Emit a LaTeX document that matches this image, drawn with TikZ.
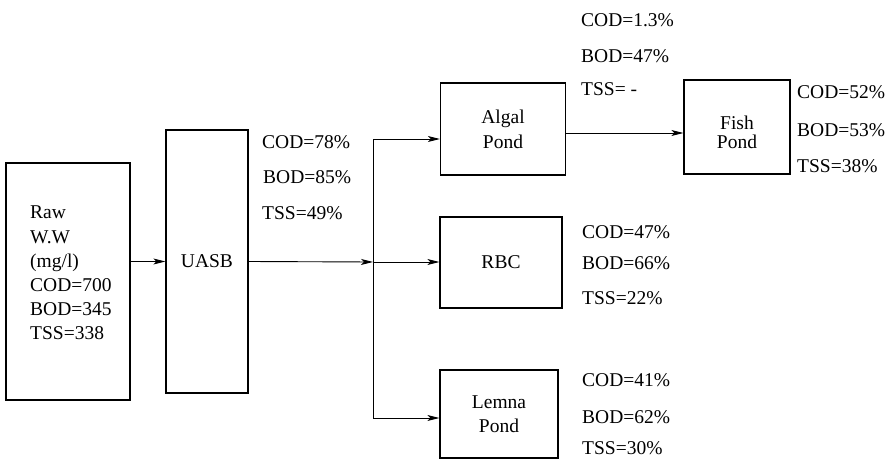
\documentclass[tikz,border=0pt]{standalone}
\usepackage{fontspec}
\setmainfont{Liberation Serif}
\usetikzlibrary{arrows.meta,calc}
\begin{document}
\begin{tikzpicture}[x=1pt,y=-1pt,
  every node/.style={font=\fontsize{19.5}{24}\selectfont},
  box/.style={draw,line width=1.3pt,inner sep=0pt,align=center},
  lbl/.style={anchor=west,inner sep=0pt},
  conn/.style={line width=0.9pt},
  arr/.style={conn,-{Stealth[length=12pt,width=6pt,inset=3pt]}}]
\useasboundingbox (0,0) rectangle (896,460);
% boxes
\node[box,minimum width=124pt,minimum height=237pt] (raw) at (68,281.5) {};
\node[anchor=north west,inner sep=0pt,align=left,font=\fontsize{19.5}{24.2}\selectfont] (rawtxt) at (30,206) {Raw\\W.W\\(mg/l)\\COD=700\\BOD=345\\TSS=338};
\node[box,minimum width=82pt,minimum height=263pt] (uasb) at (207,261.5) {UASB};
\node[box,minimum width=125pt,minimum height=92pt,font=\fontsize{19.5}{25}\selectfont] (algal) at (503,129) {Algal\\Pond};
\node[box,minimum width=122pt,minimum height=91pt] (rbc) at (501,262.5) {RBC};
\node[box,minimum width=118pt,minimum height=88pt,font=\fontsize{19.5}{24}\selectfont] (lemna) at (499,414) {Lemna\\Pond};
\node[box,minimum width=106pt,minimum height=94pt] (fish) at (737,127) {};
\node[align=center,inner sep=0pt,font=\fontsize{19.5}{19}\selectfont] (fishtxt) at (737,132) {Fish\\Pond};
% junction
\coordinate (jt) at (373,139);
\coordinate (jm) at (373,262);
\coordinate (jb) at (373,418);
% connectors
\draw[arr] (raw.east |- uasb.west) -- (uasb.west);
\draw[arr] (uasb.east) -- (jm);
\draw[conn] (jt) -- (jb);
\draw[arr] (jt) -- (jt -| algal.west);
\draw[arr] (jm) -- (jm -| rbc.west);
\draw[arr] (jb) -- (jb -| lemna.west);
\draw[arr] ($(algal.east)+(0,4)$) -- ($(fish.west)+(0,6)$);
% labels
\node[lbl] (u1) at (262,142) {COD=78\%};
\node[lbl] (u2) at (263,177) {BOD=85\%};
\node[lbl] (u3) at (262,213) {TSS=49\%};
\node[lbl] (a1) at (581,20) {COD=1.3\%};
\node[lbl] (a2) at (581,56) {BOD=47\%};
\node[lbl] (a3) at (581,89) {TSS= -};
\node[lbl] (f1) at (797,92) {COD=52\%};
\node[lbl] (f2) at (797,130) {BOD=53\%};
\node[lbl] (f3) at (797,166) {TSS=38\%};
\node[lbl] (r1) at (582,232) {COD=47\%};
\node[lbl] (r2) at (582,263) {BOD=66\%};
\node[lbl] (r3) at (582,298) {TSS=22\%};
\node[lbl] (l1) at (582,380) {COD=41\%};
\node[lbl] (l2) at (582,417) {BOD=62\%};
\node[lbl] (l3) at (582,448) {TSS=30\%};
\end{tikzpicture}
\end{document}
